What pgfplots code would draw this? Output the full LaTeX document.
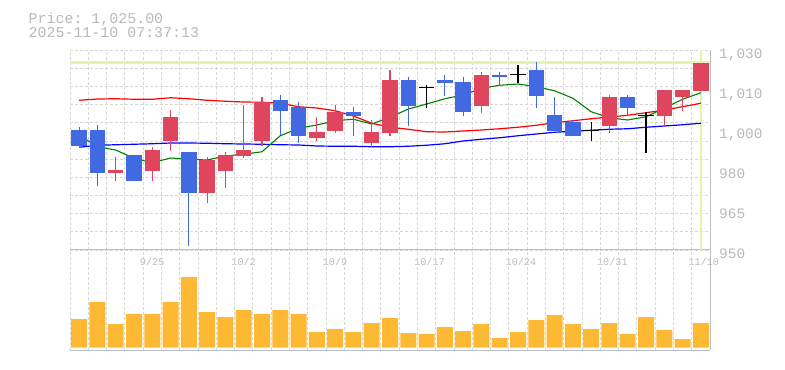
\documentclass[border=0pt]{standalone}
\usepackage{pgfplots}
\pgfplotsset{compat=1.18}
\usepackage{pgfplotstable}
\usepackage{fontspec}
\setmainfont{Liberation Sans}
\setmonofont{Liberation Mono}

\definecolor{upred}{RGB}{224,69,94}
\definecolor{dnblue}{RGB}{65,105,225}
\definecolor{volor}{RGB}{253,185,52}
\definecolor{plgreen}{RGB}{226,244,170}
\definecolor{gridgray}{RGB}{215,215,215}
\definecolor{axgray}{RGB}{190,190,190}
\definecolor{txtgray}{RGB}{185,185,185}
\definecolor{magreen}{RGB}{0,128,0}
\definecolor{mared}{RGB}{255,0,0}
\definecolor{mablue}{RGB}{0,0,255}

% up candles (close > open)
\pgfplotstableread{
i o h l c
2 980.9 987.3 977.7 982
4 981.7 991.3 977.7 990
5 993.7 1006 989.7 1003.2
7 972.9 987.3 968.9 986
8 981.7 989.3 974.9 988
9 987.7 1008 986.9 990
10 993.7 1011.3 991.7 1009.2
13 994.8 1003.2 993.7 997.2
14 997.7 1008 996.9 1005.2
16 992.9 1002 991.1 997.2
17 996.9 1022 995.7 1018
22 1007.7 1021.2 1004.9 1020.1
29 999.7 1012 996.9 1011.2
32 1003.7 1014 999.7 1014
33 1011.1 1014 1005.7 1014
34 1013.7 1025 1013.7 1025
}\uptab

% down candles (close < open)
\pgfplotstableread{
i o h l c
0 998 999.1 990.9 991.7
1 998 1000 975.7 980.9
3 988 988 977.7 977.7
6 989.2 989.2 951.7 972.9
11 1010 1012 996 1005.7
12 1007.2 1009.2 992.9 995.7
15 1005.2 1007.2 995.7 1003.7
18 1018 1019.3 999.7 1007.7
20 1018 1020.1 1011.6 1016.9
21 1017.2 1019.3 1003.7 1005.1
23 1020 1021.2 1015.7 1019.1
25 1022 1025.2 1006.9 1011.7
26 1004 1011.2 997.7 997.7
27 1001.2 1001.9 995.7 995.7
30 1011.2 1012 1003.7 1006.9
}\dntab

% doji candles (close = open)
\pgfplotstableread{
i o h l c
19 1015.1 1016 1006.9 1015.1
24 1020.1 1024.1 1016.9 1020.1
28 997.7 1001.2 993.7 997.7
31 1003.7 1005.2 989 1003.7
}\djtab

% moving averages: g = short (green), r = middle (red), b = long (blue)
\pgfplotstableread{
i g r b
0 996 1009.9 991.1
1 991.3 1010.4 991.9
2 990 1010.5 992.1
3 986.7 1010.3 992.3
4 984.9 1010.3 992.5
5 986.8 1010.9 992.8
6 986.3 1010.5 992.8
7 986 1009.9 992.7
8 987.6 1009.5 992.5
9 988.3 1009.2 992.4
10 989.3 1009.1 992.3
11 995.7 1008.7 992.1
12 998.7 1007.3 992
13 1000 1006.8 991.6
14 1001.7 1005.7 991.5
15 1002.3 1003.6 991.5
16 1000.4 1000.7 991.3
17 1003.1 999.1 991.3
18 1006.4 998.3 991.5
19 1008.4 997.3 991.9
20 1010.5 997.2 992.5
21 1012 997.6 993.6
22 1014.7 998 994.3
23 1015.9 998.5 994.9
24 1016.4 999.1 995.7
25 1015.3 999.9 996.4
26 1013.7 1000.9 997.1
27 1010.7 1001.7 997.5
28 1005.3 1002.5 997.9
29 1002.9 1003.2 998.3
30 1002 1003.9 998.5
31 1003.3 1004.9 999.1
32 1006.7 1006 999.6
33 1010.3 1007.3 1000.1
34 1012.9 1008.7 1000.7
}\matab

% volume (bar heights)
\pgfplotstableread{
i v
0 28.7
1 45.7
2 23.7
3 33.7
4 33.7
5 45.7
6 70.7
7 35.7
8 30.7
9 37.7
10 33.7
11 37.7
12 33.7
13 15.7
14 18.7
15 15.7
16 24.7
17 29.7
18 14.7
19 13.7
20 20.7
21 16.7
22 23.7
23 9.7
24 15.7
25 27.7
26 32.7
27 23.7
28 18.7
29 24.7
30 13.7
31 30.7
32 17.7
33 8.7
34 24.7
}\voltab

\begin{document}
\begin{tikzpicture}
\path[use as bounding box] (0,0) rectangle (785bp,370bp);

\node[anchor=base west, inner sep=0pt, text=txtgray, font=\fontsize{15}{15}\selectfont\ttfamily] at (28.5bp,346.7bp) {Price: 1,025.00};
\node[anchor=base west, inner sep=0pt, text=txtgray, font=\fontsize{15}{15}\selectfont\ttfamily] at (28.5bp,332.3bp) {2025-11-10 07:37:13};

\begin{axis}[
  at={(70bp,120bp)}, anchor=south west, scale only axis,
  width=640bp, height=200bp,
  xmin=-0.5, xmax=34.5, ymin=950, ymax=1030,
  enlargelimits=false,
  axis x line*=bottom, axis y line*=right,
  axis line style={draw=axgray, line width=1bp},
  xtick={-0.5,0.5,...,33.5},
  ytick={950,957.2727,964.5455,971.8182,979.0909,986.3636,993.6364,1000.9091,1008.1818,1015.4545,1022.7273,1030},
  xticklabels={}, yticklabels={},
  major tick length=0pt,
  grid=major,
  major grid style={draw=gridgray, line width=0.8bp, dash pattern=on 3bp off 2bp},
  extra x ticks={4,9,14,19,24,29,34},
  extra x tick labels={9/25,10/2,10/9,10/17,10/24,10/31,11/10},
  extra y ticks={950,966,982,998,1014,1030},
  extra y tick labels={950,965,980,{1,000},{1,010},{1,030}},
  extra tick style={grid=none, major tick length=0pt},
  xticklabel style={font=\fontsize{10.2}{10.2}\selectfont\ttfamily, text=txtgray, anchor=base west, inner sep=0pt, xshift=-12.5bp, yshift=-15.7bp},
  yticklabel style={font=\fontsize{14.5}{14.5}\selectfont\ttfamily, text=txtgray, anchor=base west, inner sep=0pt, xshift=9bp, yshift=-8.3bp},
]
% current price and current date markers
\addplot[plgreen, line width=3bp, forget plot] coordinates {(-0.5,1025) (34.5,1025)};
\addplot[plgreen, line width=2.7bp, forget plot] coordinates {(34,950) (34,1030)};

% moving averages
\addplot[mablue, line width=1.2bp, mark=none] table[x=i, y=b] {\matab};
\addplot[mared, line width=1.2bp, mark=none] table[x=i, y=r] {\matab};
\addplot[magreen, line width=1.1bp, mark=none] table[x=i, y=g] {\matab};

% wicks
\addplot[draw=none, mark=none, error bars/.cd, y dir=both, y explicit, error mark=none,
  error bar style={draw=upred, line width=1.2bp}]
  table[x=i, y expr={(\thisrow{h}+\thisrow{l})/2}, y error expr={(\thisrow{h}-\thisrow{l})/2}] {\uptab};
\addplot[draw=none, mark=none, error bars/.cd, y dir=both, y explicit, error mark=none,
  error bar style={draw=dnblue, line width=1.2bp}]
  table[x=i, y expr={(\thisrow{h}+\thisrow{l})/2}, y error expr={(\thisrow{h}-\thisrow{l})/2}] {\dntab};
\addplot[draw=none, mark=none, error bars/.cd, y dir=both, y explicit, error mark=none,
  error bar style={draw=black, line width=1.2bp}]
  table[x=i, y expr={(\thisrow{h}+\thisrow{l})/2}, y error expr={(\thisrow{h}-\thisrow{l})/2}] {\djtab};

% bodies
\addplot[draw=none, mark=none, error bars/.cd, y dir=both, y explicit, error mark=none,
  error bar style={draw=upred, line width=15.5bp}]
  table[x=i, y expr={(\thisrow{o}+\thisrow{c})/2}, y error expr={abs(\thisrow{c}-\thisrow{o})/2}] {\uptab};
\addplot[draw=none, mark=none, error bars/.cd, y dir=both, y explicit, error mark=none,
  error bar style={draw=dnblue, line width=15.5bp}]
  table[x=i, y expr={(\thisrow{o}+\thisrow{c})/2}, y error expr={abs(\thisrow{c}-\thisrow{o})/2}] {\dntab};
\addplot[only marks, mark=-, mark size=7.75bp, mark options={draw=black, line width=1.2bp}]
  table[x=i, y=o] {\djtab};
\end{axis}

\begin{axis}[
  at={(70bp,20bp)}, anchor=south west, scale only axis,
  width=640bp, height=100bp,
  xmin=-0.5, xmax=34.5, ymin=-2.3, ymax=97.7,
  enlargelimits=false,
  axis x line*=bottom, axis y line*=right,
  axis line style={draw=axgray, line width=1bp},
  xtick={-0.5,0.5,...,33.5}, xticklabels={},
  ytick=\empty,
  major tick length=0pt,
  xmajorgrids,
  major grid style={draw=gridgray, line width=0.8bp, dash pattern=on 3bp off 2bp},
]
\addplot[ybar, bar width=16bp, bar shift=0pt, fill=volor, draw=none] table[x=i, y=v] {\voltab};
\end{axis}
\end{tikzpicture}
\end{document}
